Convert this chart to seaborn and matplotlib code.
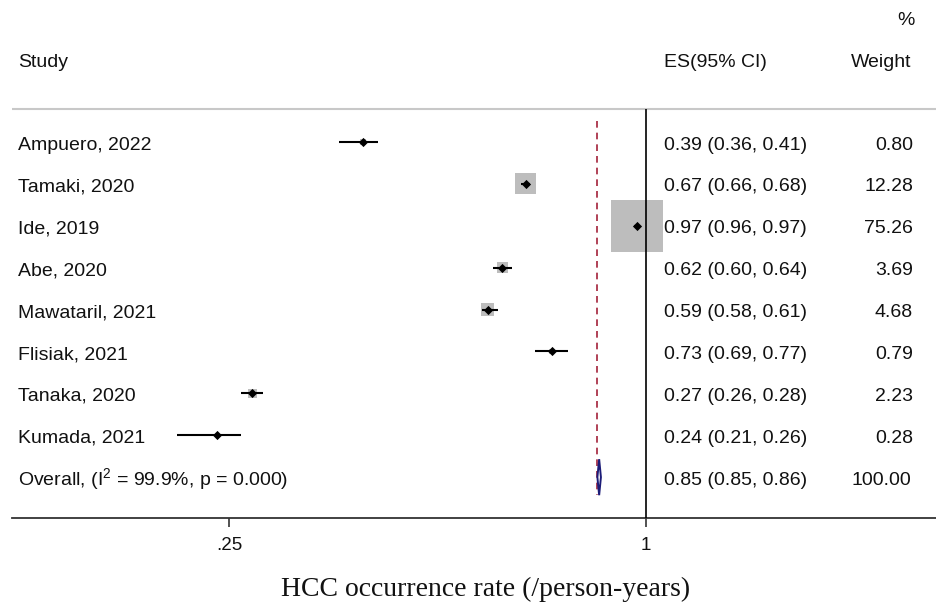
import numpy as np
import pandas as pd
import matplotlib
matplotlib.use("Agg")
import matplotlib.pyplot as plt
import matplotlib.transforms as mtransforms
from matplotlib.patches import Polygon
import seaborn as sns

# ---------------- data ----------------
studies = ["Ampuero, 2022", "Tamaki, 2020", "Ide, 2019", "Abe, 2020",
           "Mawataril, 2021", "Flisiak, 2021", "Tanaka, 2020", "Kumada, 2021"]
es = [0.39, 0.67, 0.97, 0.62, 0.59, 0.73, 0.27, 0.24]
ci_lo = [0.36, 0.66, 0.96, 0.60, 0.58, 0.69, 0.26, 0.21]
ci_hi = [0.41, 0.68, 0.97, 0.64, 0.61, 0.77, 0.28, 0.26]
weights = [0.80, 12.28, 75.26, 3.69, 4.68, 0.79, 2.23, 0.28]

overall_label = r"Overall, (I$^{2}$ = 99.9%, p = 0.000)"
overall_es = 0.85
overall_lo = 0.85
overall_hi = 0.86
overall_weight = 100.00

tick_values = [0.25, 1]
tick_labels = [".25", "1"]
x_label = "HCC occurrence rate (/person-years)"
col_headers = ["Study", "ES(95% CI)", "Weight", "%"]

# ---------------- style ----------------
sns.set_theme(style="white")
plt.rcParams["font.family"] = ["Liberation Sans", "DejaVu Sans"]
plt.rcParams["mathtext.default"] = "regular"
txt_color = "#111111"
fs = 14

W, H = 936, 604
fig = plt.figure(figsize=(W / 100, H / 100), dpi=100)
ax_left, ax_bottom_px = 12, 518
ax = fig.add_axes([ax_left / W, 1 - ax_bottom_px / H, (W - ax_left) / W, ax_bottom_px / H])

n = len(studies)
rows = np.arange(n)
df = pd.DataFrame({"study": studies, "es": es, "lo": ci_lo, "hi": ci_hi,
                   "weight": weights, "row": rows})

# weight boxes (area proportional to weight)
max_w = max(weights)
sns.scatterplot(data=df, x="es", y="row", size="weight", sizes=(0, 1385),
                size_norm=(0, max_w), marker="s", color="#bdbdbd",
                edgecolor="none", linewidth=0, legend=False, ax=ax, zorder=2)
# confidence intervals
ax.hlines(df["row"], df["lo"], df["hi"], color="black", lw=1.5, zorder=3)
# point estimates
sns.scatterplot(data=df, x="es", y="row", marker="D", color="black", s=22,
                edgecolor="black", linewidth=0, legend=False, ax=ax, zorder=4)

# overall diamond
orow = n
mid = np.sqrt(overall_lo * overall_hi)
dh = 0.43
diamond = Polygon([[overall_lo, orow], [mid, orow - dh], [overall_hi, orow], [mid, orow + dh]],
                  closed=True, facecolor="white", edgecolor="#1c1c78", lw=1.4, zorder=5)
ax.add_patch(diamond)

# reference lines
top_line = -0.79
ax.axhline(top_line, color="#c8c8c8", lw=1.5, zorder=1)
ymin_lim, ymax_lim = -3.389, 8.974
ax.vlines(1, top_line, ymax_lim, color="black", lw=1.2, zorder=3.5)
ax.vlines(overall_es, -0.5, 8.42, color="#a3213a", lw=1.2, linestyles=(0, (4, 3)), zorder=1.5)

ax.set_xscale("log")
ax.set_xlim(0.1214, 2.62)
ax.set_ylim(ymax_lim, ymin_lim)
ax.set_xticks(tick_values)
ax.set_xticklabels(tick_labels)
ax.minorticks_off()
ax.set_yticks([])
ax.set_xlabel("")
ax.set_ylabel("")
ax.grid(False)
for s in ["left", "right", "top"]:
    ax.spines[s].set_visible(False)
ax.spines["bottom"].set_color("#333333")
ax.spines["bottom"].set_linewidth(1.3)
ax.tick_params(axis="x", direction="out", length=6.5, width=1.2, pad=7.5,
               labelsize=13.5, colors="#333333", labelcolor=txt_color, bottom=True)

# text columns
trans = mtransforms.blended_transform_factory(ax.transAxes, ax.transData)
def fx(px):
    return (px - ax_left) / (W - ax_left)

bl = 0.18  # baseline offset below row centre (rows)
def put(xf, row, s, ha):
    ax.text(xf, row + bl, s, transform=trans, ha=ha, va="baseline", fontsize=fs, color=txt_color)

x_study, x_es, x_w = fx(18), fx(664), fx(913)
for i, (s, e, lo, hi, w) in enumerate(zip(studies, es, ci_lo, ci_hi, weights)):
    put(x_study, i, s, "left")
    put(x_es, i, f"{e:.2f} ({lo:.2f}, {hi:.2f})", "left")
    put(x_w, i, f"{w:.2f}", "right")

put(x_study, orow, overall_label, "left")
put(x_es, orow, f"{overall_es:.2f} ({overall_lo:.2f}, {overall_hi:.2f})", "left")
put(fx(911), orow, f"{overall_weight:.2f}", "right")

put(x_study, -1.98, col_headers[0], "left")
put(x_es, -1.98, col_headers[1], "left")
put(fx(911), -1.98, col_headers[2], "right")
put(fx(915), -2.98, col_headers[3], "right")

fig.text(486 / W, 1 - 589 / H, x_label, ha="center", va="center",
         fontsize=20, family=["Liberation Serif", "DejaVu Serif"], color=txt_color)

fig.savefig("out.png", dpi=100, facecolor="white")
